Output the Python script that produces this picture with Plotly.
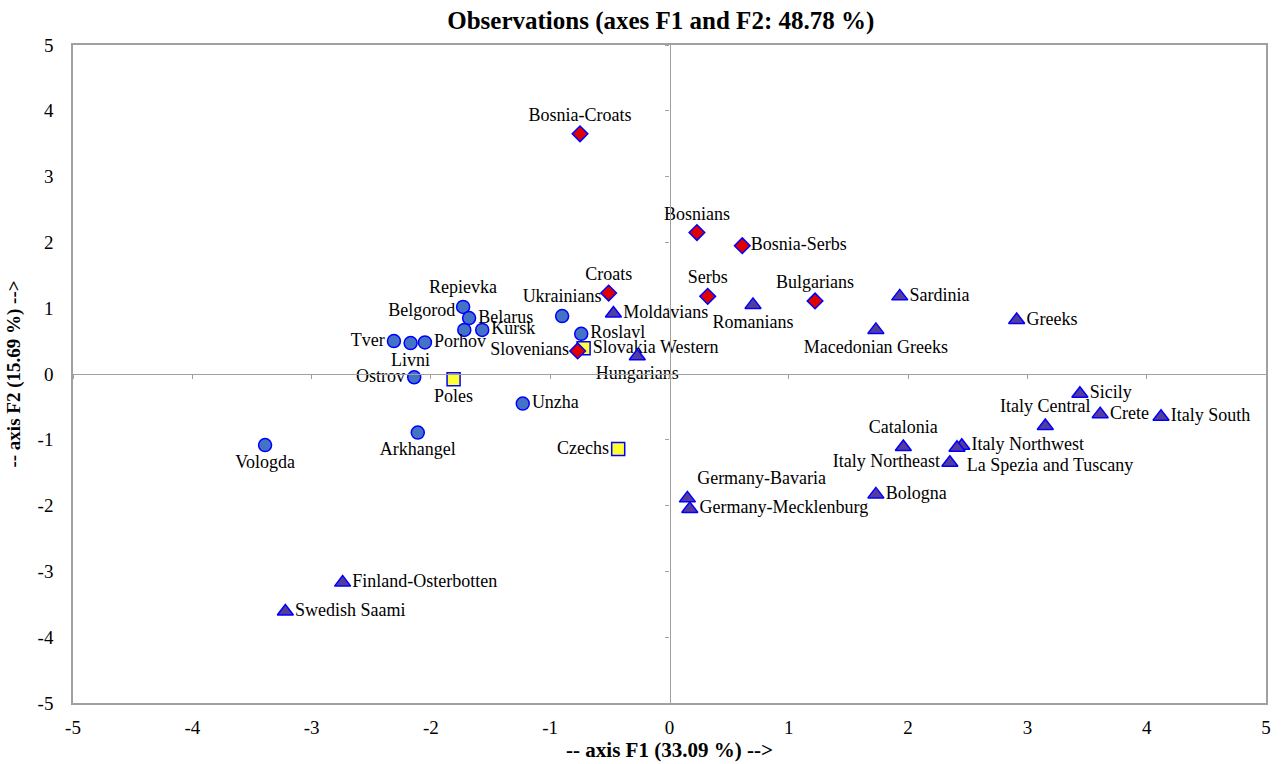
import plotly.graph_objects as go

# Circle series (blue)
circ_names = ["Repievka", "Belarus", "Belgorod", "Kursk", "Tver", "Livni", "Porhov",
              "Ukrainians", "Roslavl", "Ostrov", "Unzha", "Arkhangel", "Vologda"]
circ_x = [-1.73, -1.68, -1.72, -1.57, -2.31, -2.17, -2.05, -0.90, -0.74, -2.14, -1.23, -2.11, -3.39]
circ_y = [1.02, 0.85, 0.67, 0.67, 0.50, 0.47, 0.48, 0.88, 0.61, -0.05, -0.45, -0.89, -1.08]
circ_pos = ["top center", "middle right", "top left", "middle right", "middle left",
            "bottom center", "middle right", "top center", "middle right", "middle left",
            "middle right", "bottom center", "bottom center"]

# Square series (yellow)
sq_names = ["Poles", "Slovakia Western", "Czechs"]
sq_x = [-1.81, -0.72, -0.43]
sq_y = [-0.08, 0.39, -1.14]
sq_pos = ["bottom center", "middle right", "middle left"]

# Diamond series (red)
dia_names = ["Bosnia-Croats", "Bosnians", "Bosnia-Serbs", "Croats", "Serbs", "Bulgarians", "Slovenians"]
dia_x = [-0.75, 0.23, 0.61, -0.51, 0.32, 1.22, -0.77]
dia_y = [3.65, 2.15, 1.95, 1.23, 1.18, 1.11, 0.35]
dia_pos = ["top center", "top center", "middle right", "top center", "top center",
           "top center", "middle left"]

# Triangle series (purple)
tri_names = ["Moldavians", "Hungarians", "Romanians", "Macedonian Greeks", "Sardinia", "Greeks",
             "Sicily", "Crete", "Italy South", "Italy Central", "Catalonia", "Italy Northwest",
             "La Spezia and Tuscany", "Italy Northeast", "Bologna", "Germany-Bavaria",
             "Germany-Mecklenburg", "Finland-Osterbotten", "Swedish Saami"]
tri_x = [-0.47, -0.27, 0.70, 1.73, 1.93, 2.91, 3.44, 3.61, 4.12, 3.15, 1.96, 2.45,
         2.41, 2.35, 1.73, 0.15, 0.17, -2.74, -3.22]
tri_y = [0.92, 0.27, 1.05, 0.67, 1.18, 0.82, -0.30, -0.61, -0.65, -0.79, -1.11, -1.09,
         -1.12, -1.35, -1.83, -1.89, -2.05, -3.17, -3.61]
tri_pos = ["middle right", "bottom center", "bottom center", "bottom center", "middle right",
           "middle right", "middle right", "middle right", "middle right", "top center",
           "top center", "middle right", "bottom right", "middle left", "middle right",
           "top right", "middle right", "middle right", "middle right"]

# Axis tick labels (plain hyphen minus)
tick_vals = [-5, -4, -3, -2, -1, 0, 1, 2, 3, 4, 5]
tick_text = ["-5", "-4", "-3", "-2", "-1", "0", "1", "2", "3", "4", "5"]

SERIF = "Liberation Serif"
label_font = dict(family=SERIF, size=18, color="black")
edge = dict(color="#0000FF", width=1.5)

fig = go.Figure()
fig.add_trace(go.Scatter(x=circ_x, y=circ_y, text=circ_names, textposition=circ_pos,
                         mode="markers+text", textfont=label_font,
                         marker=dict(symbol="circle", size=13, color="#4472C4", line=edge)))
fig.add_trace(go.Scatter(x=sq_x, y=sq_y, text=sq_names, textposition=sq_pos,
                         mode="markers+text", textfont=label_font,
                         marker=dict(symbol="square", size=13, color="#FFFF33", line=edge)))
fig.add_trace(go.Scatter(x=dia_x, y=dia_y, text=dia_names, textposition=dia_pos,
                         mode="markers+text", textfont=label_font,
                         marker=dict(symbol="diamond", size=12, color="#E00000", line=edge)))
fig.add_trace(go.Scatter(x=tri_x, y=tri_y, text=tri_names, textposition=tri_pos,
                         mode="markers+text", textfont=label_font,
                         marker=dict(symbol="triangle-up", size=14, color="#553C9A", line=edge)))

# Invisible helper so the zero-crossing axes get a data range
fig.add_trace(go.Scatter(x=[-5, 5], y=[-5, 5], xaxis="x2", yaxis="y2",
                         mode="markers", marker=dict(opacity=0), hoverinfo="skip"))

tick_font = dict(family=SERIF, size=19, color="black")

fig.update_layout(
    width=1283, height=764,
    margin=dict(l=70, r=13, t=45, b=59),
    plot_bgcolor="white", paper_bgcolor="white",
    showlegend=False,
    title=dict(text="<b>Observations (axes F1 and F2: 48.78 %)</b>", x=0.515, xanchor="center",
               y=0.973, yanchor="middle",
               font=dict(family=SERIF, size=25, color="black")),
    xaxis=dict(range=[-5, 5], tickvals=tick_vals, ticktext=tick_text, showgrid=False,
               zeroline=False, showline=True, linecolor="#A0A0A0", linewidth=1.5, mirror=True,
               ticks="", tickfont=tick_font, ticklabelstandoff=6,
               title=dict(text="<b>-- axis F1 (33.09 %) --></b>",
                          font=dict(family=SERIF, size=21, color="black"), standoff=0)),
    yaxis=dict(range=[-5, 5], tickvals=tick_vals, ticktext=tick_text, showgrid=False,
               zeroline=False, showline=True, linecolor="#A0A0A0", linewidth=1.5, mirror=True,
               ticks="", tickfont=tick_font, ticklabelstandoff=14,
               title=dict(text="<b>-- axis F2 (15.69 %) --></b>",
                          font=dict(family=SERIF, size=19, color="black"), standoff=12)),
    xaxis2=dict(range=[-5, 5], tickvals=tick_vals, overlaying="x", anchor="free", position=0.5,
                showgrid=False, zeroline=False, showline=True, linecolor="#A0A0A0", linewidth=1.2,
                ticks="outside", ticklen=4, tickcolor="#A0A0A0", showticklabels=False),
    yaxis2=dict(range=[-5, 5], tickvals=tick_vals, overlaying="y", anchor="free", position=0.5,
                side="left", showgrid=False, zeroline=False, showline=True, linecolor="#A0A0A0",
                linewidth=1.2, ticks="outside", ticklen=4, tickcolor="#A0A0A0",
                showticklabels=False),
)

fig.write_html("out.html")
